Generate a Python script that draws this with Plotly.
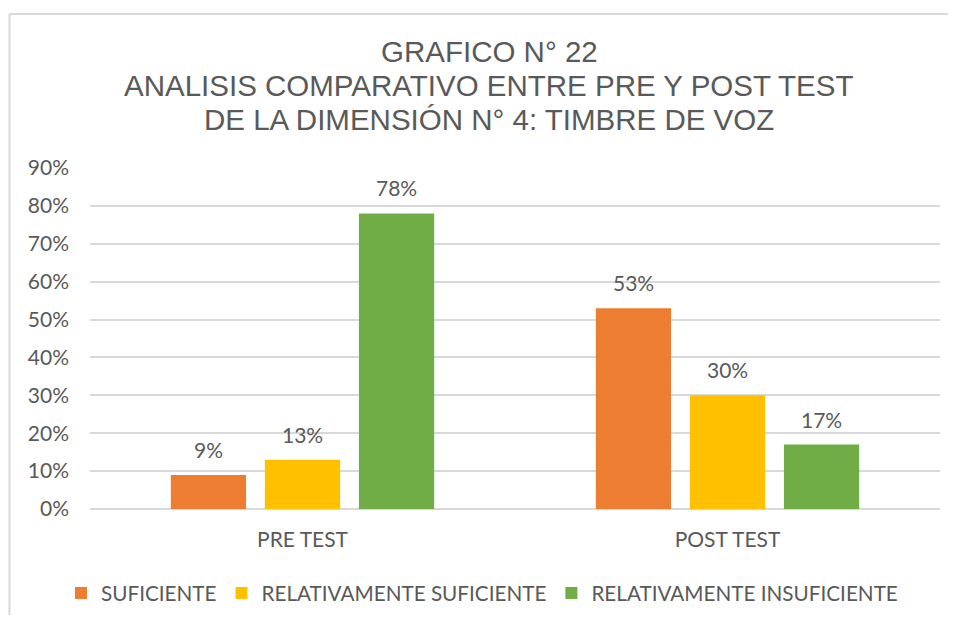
import plotly.graph_objects as go

categories = ["PRE TEST", "POST TEST"]
series_names = ["SUFICIENTE", "RELATIVAMENTE SUFICIENTE", "RELATIVAMENTE INSUFICIENTE"]
suficiente = [0.09, 0.53]
rel_suficiente = [0.13, 0.30]
rel_insuficiente = [0.78, 0.17]
colors = ["#ED7D31", "#FFC000", "#70AD47"]
y_ticks = [0, 0.1, 0.2, 0.3, 0.4, 0.5, 0.6, 0.7, 0.8, 0.9]
title_lines = ["GRAFICO N° 22",
               "ANALISIS COMPARATIVO ENTRE PRE Y POST TEST",
               "DE LA DIMENSIÓN N° 4: TIMBRE DE VOZ"]

series_values = [suficiente, rel_suficiente, rel_insuficiente]

# page has an 8px body margin on every side, so the figure is drawn smaller
OFF = 8
W, H = 956 - 2 * OFF, 623 - 2 * OFF
ml, mt = 82, 160
mr = W - (940 - OFF)
mb = H - (509 - OFF)
pw = W - ml - mr
ph = H - mt - mb


def px_x(x):  # figure pixel -> paper x
    return (x - ml) / pw


def px_y(y):  # figure pixel -> paper y
    return (mt + ph - y) / ph


TXT = "#595959"
FONT = "Lato, 'Noto Sans', sans-serif"

fig = go.Figure()
for name, vals, col in zip(series_names, series_values, colors):
    fig.add_trace(go.Bar(
        x=categories, y=vals, name=name,
        marker=dict(color=col, line=dict(width=0)),
    ))

# data labels
BARGAP = 0.336
slot = pw / len(categories) * (1 - BARGAP) / 3
for i, vals in enumerate(series_values):
    for cat, v in zip(categories, vals):
        fig.add_annotation(
            x=cat, y=v, text=f"{round(v*100)}%",
            xref="x", yref="y", showarrow=False,
            xshift=(i - 1) * slot, yanchor="bottom", yshift=11,
            font=dict(family=FONT, size=21, color=TXT),
        )

# title (three lines, centred)
title_centers = [51 - OFF, 85 - OFF, 120 - OFF]
for line, yc in zip(title_lines, title_centers):
    fig.add_annotation(
        x=px_x(489 - OFF), y=px_y(yc), xref="paper", yref="paper",
        text=line, showarrow=False, xanchor="center", yanchor="middle",
        font=dict(family="'Liberation Sans', Arial, sans-serif", size=29.5, color=TXT),
    )

# chart frame (top and left borders)
fx = px_x(9.5 - OFF)
fy = px_y(14 - OFF)
fig.add_shape(type="line", xref="paper", yref="paper", x0=fx, x1=1.2, y0=fy, y1=fy,
              line=dict(color="#D9D9D9", width=2))
fig.add_shape(type="line", xref="paper", yref="paper", x0=fx, x1=fx, y0=fy, y1=-0.6,
              line=dict(color="#D9D9D9", width=2))

fig.update_layout(
    width=W, height=H,
    margin=dict(l=ml, r=mr, t=mt, b=mb, pad=0, autoexpand=False),
    paper_bgcolor="white", plot_bgcolor="white",
    barmode="group", bargap=BARGAP, bargroupgap=0.2,
    font=dict(family=FONT, size=21, color=TXT),
    showlegend=True,
    legend=dict(orientation="h", x=px_x(61 - OFF), xanchor="left",
                y=px_y(593 - OFF), yanchor="middle",
                font=dict(family=FONT, size=20.7, color=TXT),
                itemwidth=30, traceorder="normal"),
    xaxis=dict(showgrid=False, showline=False, ticks="", ticklabelstandoff=16,
               tickfont=dict(family=FONT, size=21, color=TXT)),
    yaxis=dict(range=[0, 0.9], tickvals=y_ticks, tickformat=".0%",
               showgrid=True, gridcolor="#D9D9D9", gridwidth=1.5,
               zeroline=True, zerolinecolor="#D9D9D9", zerolinewidth=1.5,
               showline=False, ticks="", ticklabelstandoff=20,
               tickfont=dict(family=FONT, size=21, color=TXT)),
)

fig.write_html("out.html")
